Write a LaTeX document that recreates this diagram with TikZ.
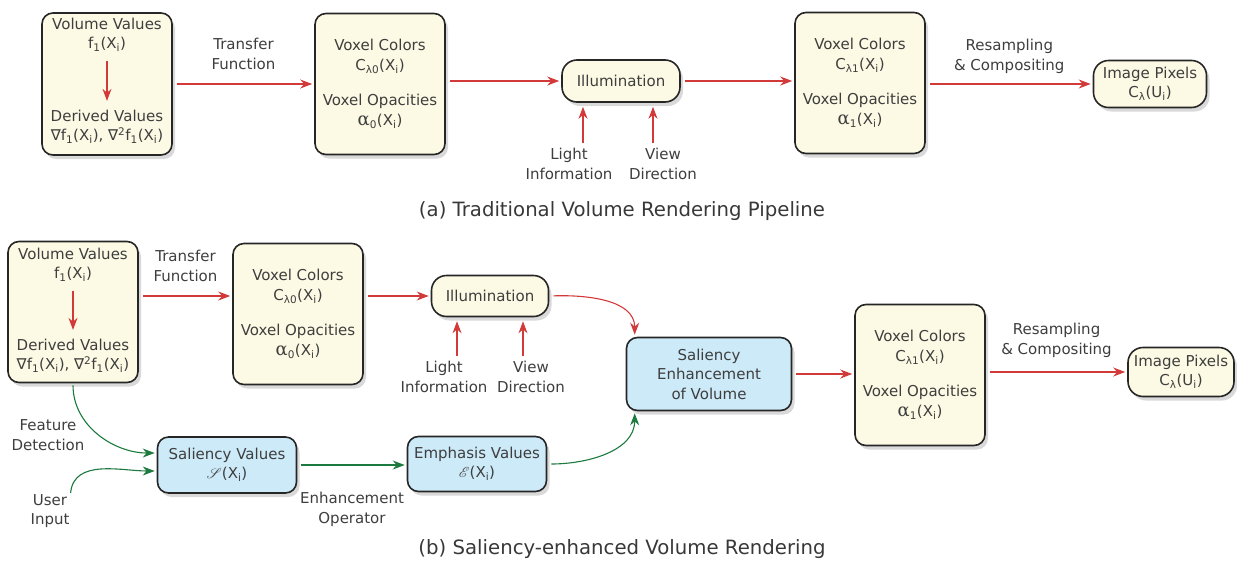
\documentclass[tikz,border=0pt]{standalone}
\usepackage{fontspec}
\setmainfont{DejaVu Sans}
\newfontfamily\greekserif{DejaVu Serif}
\usepackage{mathrsfs}
\usetikzlibrary{positioning, arrows.meta, shadows}
\definecolor{BoxCream}{RGB}{252,250,228}
\definecolor{BoxBlue}{RGB}{205,234,248}
\definecolor{ArrRed}{RGB}{210,58,58}
\definecolor{ArrGreen}{RGB}{28,122,62}
\definecolor{Ink}{RGB}{62,62,62}
\newcommand{\lo}[1]{\textsubscript{#1}}
\newcommand{\txtsize}{\fontsize{15}{19.5}\selectfont}
\newcommand{\capsize}{\fontsize{19.7}{22}\selectfont}
\newcommand{\alf}{{\greekserif\fontsize{18}{19.5}\selectfont α}}

\begin{document}
\begin{tikzpicture}[x=1pt, y=-1pt,
      box/.style={draw=black!85, line width=1.6pt, rounded corners=11pt,
                  fill=BoxCream, inner sep=0pt, align=center, text=Ink, font=\txtsize,
                  drop shadow={shadow xshift=3pt, shadow yshift=-4pt, opacity=0.3}},
      pill/.style={box, rounded corners=15pt},
      salbox/.style={box, fill=BoxBlue},
      lbl/.style={align=center, text=Ink, font=\txtsize, inner sep=1pt},
      captext/.style={text=Ink!90!black, font=\capsize},
      redarr/.style={draw=ArrRed, line width=1.1pt, shorten <=4pt, shorten >=2pt,
                     -{Stealth[length=12pt, width=9pt]}},
      grnarr/.style={redarr, draw=ArrGreen}
    ]
    \useasboundingbox (0,0) rectangle (1237,560);

    % (a) Boxes
    \node[box, minimum width=130pt, minimum height=142pt] (vol1) at (107,84) {};
    \node[lbl] (vv1) at (107,35) {Volume Values\\f\lo{1}(X\lo{i})};
    \node[lbl] (dv1) at (107,127) {Derived Values\\∇f\lo{1}(X\lo{i}), ∇\textsuperscript{2}f\lo{1}(X\lo{i})};
    \node[box, minimum width=130pt, minimum height=141pt] (col1) at (380,84)
        {Voxel Colors\\C\lo{λ0}(X\lo{i})\\[16pt]Voxel Opacities\\\alf\lo{0}(X\lo{i})};
    \node[pill, minimum width=118pt, minimum height=42pt] (ill1) at (621,81) {Illumination};
    \node[box, minimum width=130pt, minimum height=141pt] (out1) at (860,83)
        {Voxel Colors\\C\lo{λ1}(X\lo{i})\\[16pt]Voxel Opacities\\\alf\lo{1}(X\lo{i})};
    \node[pill, minimum width=113pt, minimum height=47pt] (pix1) at (1150,84)
        {Image Pixels\\C\lo{λ}(U\lo{i})};
    \node[lbl] (li1) at (569,164) {Light\\Information};
    \node[lbl] (vd1) at (663,164) {View\\Direction};

    % (a) Arrows
    \draw[redarr, shorten <=8pt, shorten >=8pt] (vv1.south) -- (dv1.north);
    \draw[redarr] (vol1.east) -- node[lbl, above=13pt] {Transfer\\Function} (vol1.east -| col1.west);
    \draw[redarr] (col1.east |- ill1.west) -- (ill1.west);
    \draw[redarr] (ill1.east) -- (ill1.east -| out1.west);
    \draw[redarr] (out1.east |- pix1.west) -- node[lbl, above=9pt] {Resampling\\\& Compositing} (pix1.west);
    \draw[redarr, shorten >=4pt] ([xshift=14pt]li1.north) -- ([xshift=14pt]li1.north |- ill1.south);
    \draw[redarr, shorten >=4pt] ([xshift=-10pt]vd1.north) -- ([xshift=-10pt]vd1.north |- ill1.south);

    \node[captext] (capa) at (622,211) {(a) Traditional Volume Rendering Pipeline};

    % (b) Boxes
    \node[box, minimum width=130pt, minimum height=141pt] (vol2) at (73,312) {};
    \node[lbl] (vv2) at (73,265) {Volume Values\\f\lo{1}(X\lo{i})};
    \node[lbl] (dv2) at (73,356) {Derived Values\\∇f\lo{1}(X\lo{i}), ∇\textsuperscript{2}f\lo{1}(X\lo{i})};
    \node[box, minimum width=130pt, minimum height=141pt] (col2) at (298,314)
        {Voxel Colors\\C\lo{λ0}(X\lo{i})\\[16pt]Voxel Opacities\\\alf\lo{0}(X\lo{i})};
    \node[pill, minimum width=117pt, minimum height=41pt] (ill2) at (490,296) {Illumination};
    \node[salbox, minimum width=165pt, minimum height=73pt] (enh) at (709,374)
        {Saliency\\Enhancement\\of Volume};
    \node[box, minimum width=130pt, minimum height=141pt] (out2) at (920,375)
        {Voxel Colors\\C\lo{λ1}(X\lo{i})\\[16pt]Voxel Opacities\\\alf\lo{1}(X\lo{i})};
    \node[pill, minimum width=106pt, minimum height=49pt] (pix2) at (1181,372)
        {Image Pixels\\C\lo{λ}(U\lo{i})};
    \node[salbox, minimum width=139pt, minimum height=56pt] (sal) at (227,465)
        {Saliency Values\\$\mathscr{S}$(X\lo{i})};
    \node[salbox, minimum width=139pt, minimum height=55pt] (emph) at (477,464)
        {Emphasis Values\\$\mathscr{E}$(X\lo{i})};
    \node[lbl] (li2) at (444,377) {Light\\Information};
    \node[lbl] (vd2) at (531,377) {View\\Direction};
    \node[lbl] (fd) at (48,435) {Feature\\Detection};
    \node[lbl] (ui) at (50,511) {User\\Input};

    % (b) Arrows
    \draw[redarr, shorten <=8pt, shorten >=8pt] (vv2.south) -- (dv2.north);
    \draw[redarr] (vol2.east |- ill2.west) -- node[lbl, above=13pt] {Transfer\\Function} (col2.west |- ill2.west);
    \draw[redarr] (col2.east |- ill2.west) -- (ill2.west);
    \draw[redarr] (ill2.east) to[out=2, in=90] ([xshift=9pt]enh.north west);
    \draw[redarr, shorten >=4pt] ([xshift=13pt]li2.north) -- ([xshift=13pt]li2.north |- ill2.south);
    \draw[redarr, shorten >=4pt] ([xshift=-8pt]vd2.north) -- ([xshift=-8pt]vd2.north |- ill2.south);
    \draw[redarr] (enh.east) -- (enh.east -| out2.west);
    \draw[redarr] (out2.east |- pix2.west) -- node[lbl, above=13pt] {Resampling\\\& Compositing} (pix2.west);
    \draw[grnarr, shorten <=2pt] (vol2.south) to[out=-90, in=180] ([yshift=12pt]sal.west);
    \draw[grnarr, shorten <=0pt] (ui.north east) to[out=85, in=180] ([yshift=-6pt]sal.west);
    \draw[grnarr] (sal.east) -- node[lbl, below=26pt] {Enhancement\\Operator} (sal.east -| emph.west);
    \draw[grnarr] (emph.east) to[out=0, in=-90] ([xshift=9pt]enh.south west);

    \node[captext] (capb) at (622,549) {(b) Saliency-enhanced Volume Rendering};
  \end{tikzpicture}
\end{document}
